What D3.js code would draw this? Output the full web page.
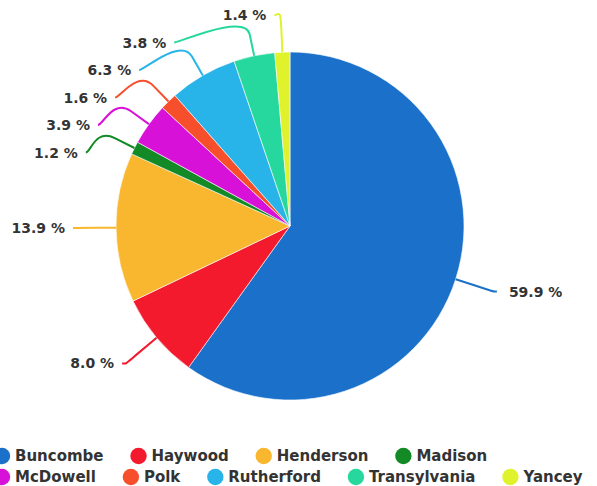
<!DOCTYPE html>
<html>
<head>
<meta charset="utf-8">
<script src="https://cdn.jsdelivr.net/npm/d3@7"></script>
<style>
  html, body { margin: 0; padding: 0; background: #fff; }
  svg { display: block; }
  text { font-family: "DejaVu Sans", sans-serif; font-weight: bold; fill: #333; }
</style>
</head>
<body>
<svg id="chart" width="597" height="486"></svg>
<script>
const categories = ["Buncombe", "Haywood", "Henderson", "Madison", "McDowell", "Polk", "Rutherford", "Transylvania", "Yancey"];
const values = [59.9, 8.0, 13.9, 1.2, 3.9, 1.6, 6.3, 3.8, 1.4];
const colors = ["#1b71c9", "#f31a2e", "#f8b72e", "#138a26", "#d811d8", "#f74f2b", "#28b4e8", "#27d89e", "#dff22b"];

const W = 597, H = 486;
const cx = 290, cy = 226, r = 174;
const svg = d3.select("#chart");

const data = categories.map((c, i) => ({ name: c, value: values[i], color: colors[i] }));
const pie = d3.pie().sort(null).value(d => d.value);
const arcs = pie(data);
const arc = d3.arc().innerRadius(0).outerRadius(r);

const g = svg.append("g").attr("transform", `translate(${cx},${cy})`);
g.selectAll("path.slice").data(arcs).join("path")
  .attr("class", "slice")
  .attr("d", arc)
  .attr("fill", d => d.data.color)
  .attr("stroke", "#fff")
  .attr("stroke-width", 0.6);

// ---- label layout ----
const natR = 214, getXR = 217, breakOff = 22, spacing = 27.5, topBound = 15, botBound = 430;
const labels = arcs.map(a => {
  const th = (a.startAngle + a.endAngle) / 2;
  const s = Math.sin(th), c = Math.cos(th);
  return {
    a, th, s, c,
    left: s < 0,
    edge: [cx + r * s, cy - r * c],
    brk: [cx + (r + breakOff) * s, cy - (r + breakOff) * c],
    ctl: [cx + (r + 2 * breakOff) * s, cy - (r + 2 * breakOff) * c],
    y: cy - natR * c,
    ny: cy - natR * c
  };
});

function resolve(list) {
  list.sort((p, q) => p.ny - q.ny);
  let clusters = list.map(l => ({ items: [l] }));
  function place(cl) {
    const mean = d3.mean(cl.items, d => d.ny);
    let top = mean - (cl.items.length - 1) * spacing / 2;
    top = Math.max(topBound, Math.min(top, botBound - (cl.items.length - 1) * spacing));
    cl.top = top;
    cl.bottom = top + (cl.items.length - 1) * spacing;
  }
  clusters.forEach(place);
  let changed = true;
  while (changed) {
    changed = false;
    for (let i = 0; i < clusters.length - 1; i++) {
      if (clusters[i + 1].top - clusters[i].bottom < spacing) {
        clusters[i].items = clusters[i].items.concat(clusters[i + 1].items);
        clusters.splice(i + 1, 1);
        place(clusters[i]);
        changed = true;
        break;
      }
    }
  }
  clusters.forEach(cl => cl.items.forEach((l, k) => l.y = cl.top + k * spacing));
}
resolve(labels.filter(l => l.left));
resolve(labels.filter(l => !l.left));

labels.forEach(l => {
  const dy = l.y - cy;
  const dx = Math.sqrt(Math.max(0, getXR * getXR - dy * dy));
  if (Math.abs(l.s) < 0.1) {
    l.x = l.edge[0] + (l.left ? -8 : 8);
  } else {
    l.x = cx + (l.left ? -dx : dx);
  }
});

const lg = svg.append("g");
lg.selectAll("path.conn").data(labels).join("path")
  .attr("class", "conn")
  .attr("fill", "none")
  .attr("stroke", d => d.a.data.color)
  .attr("stroke-width", 2)
  .attr("d", d => {
    const p = d3.path();
    p.moveTo(d.x, d.y);
    p.bezierCurveTo(d.x + (d.left ? 5 : -5), d.y, d.ctl[0], d.ctl[1], d.brk[0], d.brk[1]);
    p.lineTo(d.edge[0], d.edge[1]);
    return p.toString();
  });

lg.selectAll("text.lbl").data(labels).join("text")
  .attr("class", "lbl")
  .attr("x", d => d.x + (d.left ? -8 : 12))
  .attr("y", d => d.y)
  .attr("dy", "0.36em")
  .attr("text-anchor", d => d.left ? "end" : "start")
  .style("font-size", "14px")
  .text(d => d.a.data.value.toFixed(1) + " %");

// ---- legend ----
const leg = svg.append("g");
const rowY = [456, 477];
let x = 2, row = 0;
data.forEach((d, i) => {
  const item = leg.append("g");
  const t = item.append("text")
    .attr("dy", "0.36em")
    .style("font-size", "15px")
    .text(d.name);
  const w = t.node().getComputedTextLength();
  if (x + 13 + w > W && i > 0) { row += 1; x = 2; }
  item.attr("transform", `translate(${x},${rowY[row]})`);
  t.attr("x", 13);
  item.insert("circle", "text").attr("r", 8.2).attr("cx", 0).attr("cy", 0).attr("fill", d.color);
  x = x + 13 + w + 35;
});
</script>
</body>
</html>
